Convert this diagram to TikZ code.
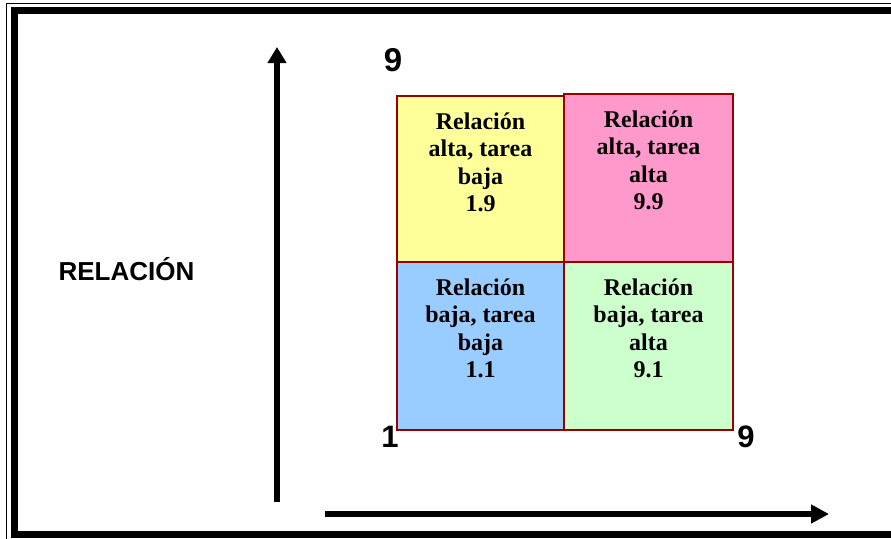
\documentclass[tikz,border=0pt]{standalone}
\usepackage{fontspec}
\setmainfont{Liberation Serif}
\newfontfamily\arialfont{Liberation Sans}
\usetikzlibrary{arrows.meta}
\definecolor{cellborder}{HTML}{990000}
\definecolor{cyellow}{HTML}{FFFF99}
\definecolor{cpink}{HTML}{FF99CC}
\definecolor{cblue}{HTML}{99CCFF}
\definecolor{cgreen}{HTML}{CCFFCC}
\tikzset{
  cell/.style={draw=cellborder, line width=1.5pt, inner sep=0pt, outer sep=0pt, anchor=north west},
  celltext/.style={align=center, inner sep=0pt, anchor=north, font=\bfseries\fontsize{24}{27.6}\selectfont},
  axislabel/.style={inner sep=0pt, anchor=base, font=\arialfont\bfseries\fontsize{26}{30}\selectfont},
  numlabel/.style={inner sep=0pt, anchor=base, font=\arialfont\bfseries\fontsize{31}{36}\selectfont},
  axisarrow/.style={line width=6pt}
}
\begin{document}
\begin{tikzpicture}[x=1pt,y=-1pt]
\useasboundingbox (0,0) rectangle (891,538);
\begin{scope}
  \clip (0,0) rectangle (891,538);
  \draw[line width=1.3pt] (6.7,3.3) rectangle (920,570);
  \draw[line width=7pt] (14.3,10.5) rectangle (910,534.3);
\end{scope}
% cells
\node[cell, fill=cyellow, minimum width=167pt, minimum height=166pt] (c19) at (397,96) {};
\node[cell, fill=cpink, minimum width=169pt, minimum height=168pt] (c99) at (564,94) {};
\node[cell, fill=cblue, minimum width=167pt, minimum height=168pt] (c11) at (397,262) {};
\node[cell, fill=cgreen, minimum width=169pt, minimum height=168pt] (c91) at (564,262) {};
% cell texts
\node[celltext] (t19) at (480.5,112.2) {Relación\\alta, tarea\\baja\\1.9};
\node[celltext] (t99) at (648.5,110.2) {Relación\\alta, tarea\\alta\\9.9};
\node[celltext] (t11) at (480.5,278.2) {Relación\\baja, tarea\\baja\\1.1};
\node[celltext] (t91) at (648.5,278.2) {Relación\\baja, tarea\\alta\\9.1};
% labels
\node[axislabel] (rel) at (126.5,280) {RELACIÓN};
\node[numlabel, font=\arialfont\bfseries\fontsize{33}{38}\selectfont] (ntop) at (393,71.5) {9};
\node[numlabel] (nleft) at (390,447) {1};
\node[numlabel] (nright) at (746,447) {9};
% axes
\coordinate (vbot) at (277,502);
\coordinate (vtop) at (277,47);
\coordinate (hleft) at (325,514);
\coordinate (hright) at (829,514);
\draw[axisarrow, -{Triangle[length=16pt,width=18pt]}] (vbot) -- (vtop);
\draw[axisarrow, -{Triangle[length=18pt,width=18pt]}] (hleft) -- (hright);
\end{tikzpicture}
\end{document}
